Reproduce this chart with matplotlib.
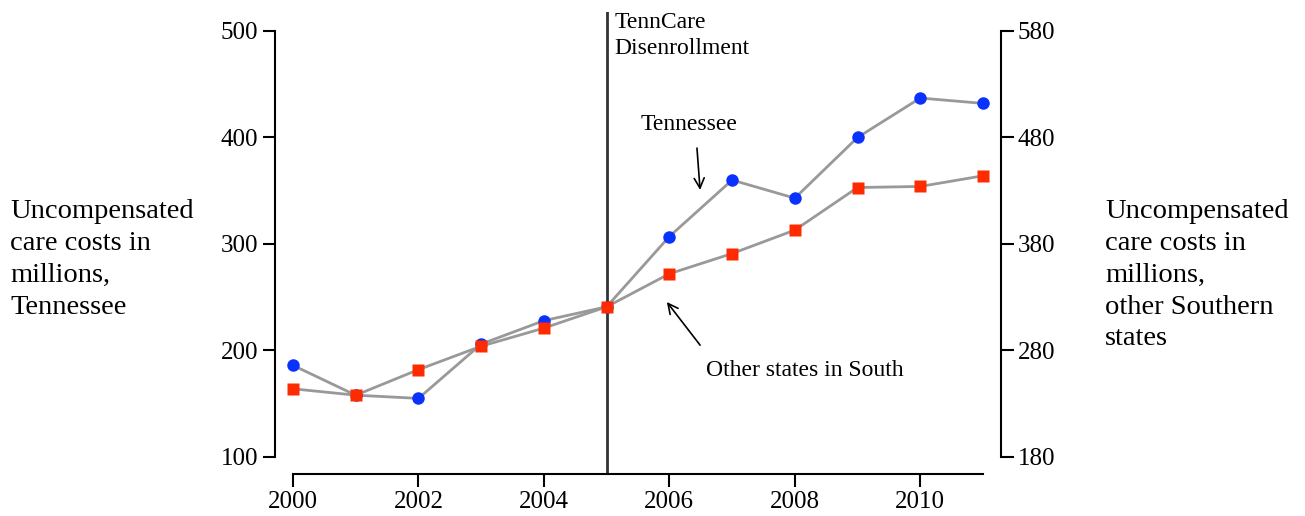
import matplotlib.pyplot as plt

# Uncompensated care costs (millions)
years = [2000, 2001, 2002, 2003, 2004, 2005, 2006, 2007, 2008, 2009, 2010, 2011]
tennessee = [186, 158, 155, 206, 228, 241, 307, 360, 343, 400, 437, 432]
other_south = [244, 238, 262, 284, 301, 321, 352, 371, 393, 433, 434, 444]

left_ticks = [100, 200, 300, 400, 500]
right_ticks = [180, 280, 380, 480, 580]
x_ticks = [2000, 2002, 2004, 2006, 2008, 2010]

plt.rcParams['font.family'] = ['Liberation Serif', 'DejaVu Serif']

fig = plt.figure(figsize=(13.05, 5.16), dpi=100)
ax = fig.add_axes([275 / 1305, 42 / 516, 726 / 1305, 462 / 516])
ax2 = ax.twinx()

line_col = '#999999'
ax.plot(years, tennessee, color=line_col, lw=2, zorder=2)
ax.plot(years, tennessee, 'o', color='#0a32ff', ms=9, mec='none', zorder=3)
ax2.plot(years, other_south, color=line_col, lw=2, zorder=2)
ax2.plot(years, other_south, 's', color='#ff2a00', ms=9, mec='none', zorder=3)

ax.set_xlim(1999.713, 2011.287)
ax.set_ylim(84, 517.8)
ax2.set_ylim(84 + 80, 517.8 + 80)

# event line
ax.axvline(2005, color='#333333', lw=2, zorder=1)

for a in (ax, ax2):
    a.spines['top'].set_visible(False)
    for s in a.spines.values():
        s.set_linewidth(1.5)
ax.spines['right'].set_visible(False)
ax2.spines['left'].set_visible(False)
ax2.spines['bottom'].set_visible(False)
ax.spines['left'].set_bounds(100, 500)
ax.spines['bottom'].set_bounds(2000, 2011)
ax2.spines['right'].set_bounds(180, 580)

ax.set_yticks(left_ticks)
ax2.set_yticks(right_ticks)
ax.set_xticks(x_ticks)
ax.tick_params(axis='both', length=9, width=1.5, labelsize=18, pad=3)
ax2.tick_params(axis='y', length=9, width=1.5, labelsize=18, pad=3)

fig.text(10 / 1305, 1 - 199 / 516, 'Uncompensated\ncare costs in\nmillions,\nTennessee',
         fontsize=20.5, va='top', ha='left', linespacing=1.36)
fig.text(1105 / 1305, 1 - 199 / 516, 'Uncompensated\ncare costs in\nmillions,\nother Southern\nstates',
         fontsize=20.5, va='top', ha='left', linespacing=1.36)

ax.text(2005.12, 518, 'TennCare\nDisenrollment', fontsize=17, va='top', ha='left', linespacing=1.35)

arrow = dict(arrowstyle='->', color='black', lw=1.2, shrinkA=0, shrinkB=0, mutation_scale=18)
ax.text(2006.31, 411.7, 'Tennessee', fontsize=17, ha='center', va='center')
ax.annotate('', xy=(2006.49, 350.7), xytext=(2006.44, 390), arrowprops=arrow)
ax.text(2008.16, 180.8, 'Other states in South', fontsize=17, ha='center', va='center')
ax.annotate('', xy=(2005.96, 245.5), xytext=(2006.49, 205), arrowprops=arrow)

fig.savefig('out.png', dpi=100)
